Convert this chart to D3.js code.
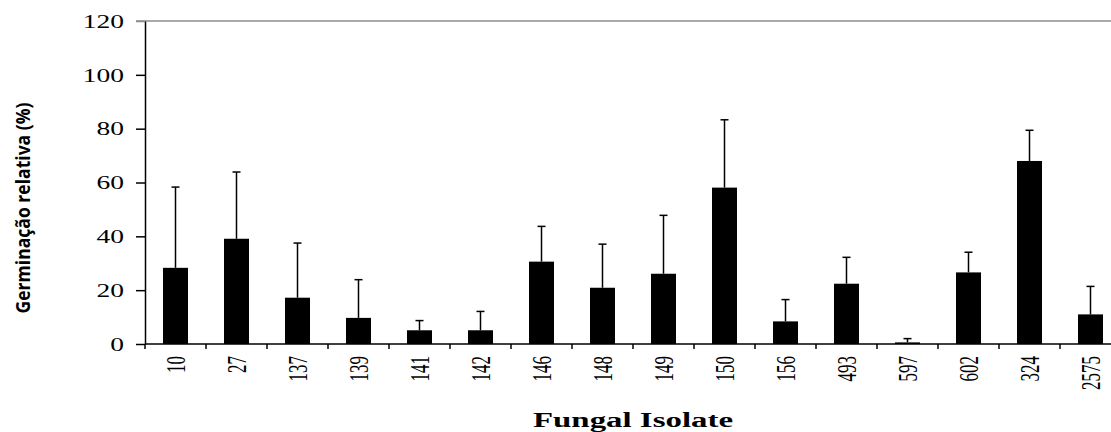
<!DOCTYPE html>
<html>
<head>
<meta charset="utf-8">
<script src="https://cdn.jsdelivr.net/npm/d3@7"></script>
<style>
  body { margin: 0; background: #fff; }
  svg { display: block; }
</style>
</head>
<body>
<div id="chart"></div>
<script>
// data
const isolates = ["10", "27", "137", "139", "141", "142", "146", "148", "149", "150", "156", "493", "597", "602", "324", "2575"];
const germination = [28.3, 39.1, 17.2, 9.7, 5.1, 5.1, 30.6, 20.9, 26.1, 58.1, 8.4, 22.4, 0.6, 26.6, 68.0, 11.0];
const errorUp = [30.0, 24.8, 20.3, 14.2, 3.6, 7.0, 13.1, 16.2, 21.7, 25.2, 8.1, 9.8, 1.4, 7.5, 11.4, 10.4];
const yTicks = [0, 20, 40, 60, 80, 100, 120];

const W = 1111, H = 432;
const plotLeft = 145, plotRight = 1121, plotTop = 21, plotBottom = 344;
const stretch = 1.45;

const svg = d3.select("#chart").append("svg")
    .attr("width", W)
    .attr("height", H);

const y = d3.scaleLinear().domain([0, 120]).range([plotBottom, plotTop]);

// bars
const x = d3.scaleBand()
    .domain(isolates)
    .range([plotLeft, plotRight])
    .paddingInner(0.59)
    .paddingOuter(0.295);

// category boundaries for the ticks
const xb = d3.scaleBand().domain(isolates).range([plotLeft, plotRight]).padding(0);

const data = isolates.map((d, i) => ({ name: d, value: germination[i], err: errorUp[i] }));

// top border line
svg.append("line")
    .attr("x1", plotLeft - 9).attr("x2", W)
    .attr("y1", y(120)).attr("y2", y(120))
    .attr("stroke", "#8c8c8c")
    .attr("stroke-width", 1.5);

// error bars (upper only)
const eb = svg.append("g").attr("stroke", "#000").attr("stroke-width", 1.5);
eb.selectAll("line.stem")
    .data(data)
    .enter().append("line")
    .attr("class", "stem")
    .attr("x1", d => x(d.name) + x.bandwidth() / 2)
    .attr("x2", d => x(d.name) + x.bandwidth() / 2)
    .attr("y1", d => y(d.value))
    .attr("y2", d => y(d.value + d.err));
eb.selectAll("line.cap")
    .data(data)
    .enter().append("line")
    .attr("class", "cap")
    .attr("x1", d => x(d.name) + x.bandwidth() / 2 - 4)
    .attr("x2", d => x(d.name) + x.bandwidth() / 2 + 4)
    .attr("y1", d => y(d.value + d.err))
    .attr("y2", d => y(d.value + d.err));

svg.selectAll("rect.bar")
    .data(data)
    .enter().append("rect")
    .attr("class", "bar")
    .attr("x", d => x(d.name))
    .attr("width", x.bandwidth())
    .attr("y", d => y(d.value))
    .attr("height", d => y(0) - y(d.value))
    .attr("fill", "#000");

// y axis
const yAxis = svg.append("g")
    .attr("transform", "translate(" + plotLeft + ",0)")
    .call(d3.axisLeft(y).tickValues(yTicks).tickSize(9).tickSizeOuter(0));
yAxis.select(".domain").attr("stroke", "#000").attr("stroke-width", 1.5);
yAxis.selectAll(".tick line").attr("stroke", "#000").attr("stroke-width", 1.5);
yAxis.selectAll(".tick").filter(d => d === 120).select("line").attr("stroke", "#8c8c8c");
yAxis.selectAll(".tick text")
    .attr("x", 0)
    .attr("dy", "0.33em")
    .attr("transform", "translate(-21,0) scale(" + stretch + ",1)")
    .attr("text-anchor", "end")
    .style("font-family", "'Liberation Serif', 'Times New Roman', serif")
    .style("font-size", "19px")
    .attr("fill", "#000");

// x axis line
svg.append("line")
    .attr("x1", plotLeft).attr("x2", W)
    .attr("y1", plotBottom).attr("y2", plotBottom)
    .attr("stroke", "#000").attr("stroke-width", 1.5);

svg.selectAll("line.xtick")
    .data(isolates)
    .enter().append("line")
    .attr("class", "xtick")
    .attr("x1", d => xb(d)).attr("x2", d => xb(d))
    .attr("y1", plotBottom).attr("y2", plotBottom + 5)
    .attr("stroke", "#000").attr("stroke-width", 1.5);

svg.selectAll("text.xlabel")
    .data(isolates)
    .enter().append("text")
    .attr("class", "xlabel")
    .attr("transform", d => "translate(" + (x(d) + x.bandwidth() / 2) + ",356) scale(1.6,1) rotate(-90)")
    .attr("text-anchor", "end")
    .attr("dy", "0.35em")
    .style("font-family", "'Liberation Serif', 'Times New Roman', serif")
    .style("font-size", "17px")
    .text(d => d);

// axis titles
svg.append("text")
    .attr("transform", "translate(23,208) scale(1.35,1) rotate(-90)")
    .attr("text-anchor", "middle")
    .attr("dy", "0.35em")
    .attr("textLength", 211)
    .attr("lengthAdjust", "spacingAndGlyphs")
    .style("font-family", "'Open Sans', sans-serif")
    .style("font-weight", "bold")
    .style("font-size", "14px")
    .text("Germinação relativa (%)");

svg.append("text")
    .attr("transform", "translate(633,427) scale(" + stretch + ",1)")
    .attr("text-anchor", "middle")
    .attr("textLength", 200 / stretch)
    .attr("lengthAdjust", "spacingAndGlyphs")
    .style("font-family", "'Liberation Serif', 'Times New Roman', serif")
    .style("font-weight", "bold")
    .style("font-size", "20px")
    .text("Fungal Isolate");
</script>
</body>
</html>
